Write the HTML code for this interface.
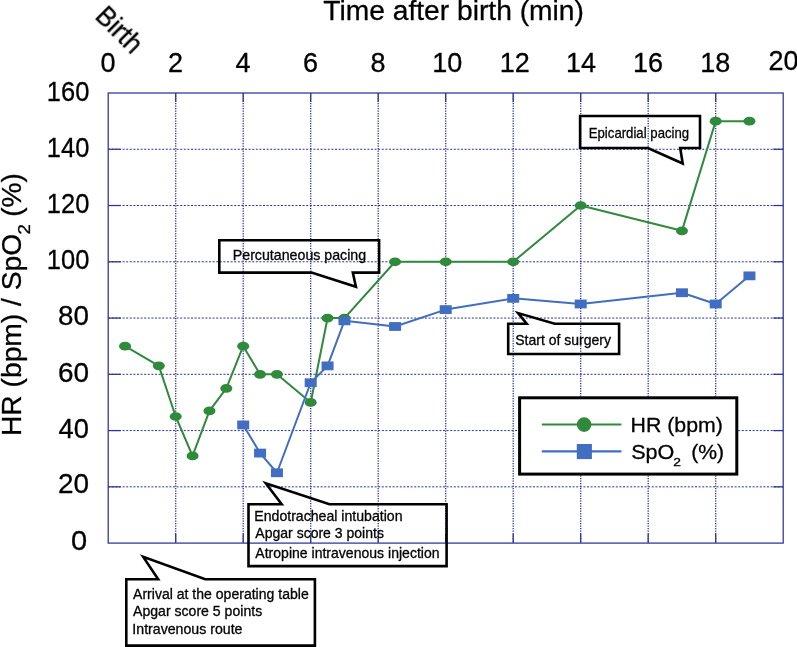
<!DOCTYPE html>
<html><head><meta charset="utf-8"><title>Chart</title>
<style>html,body{margin:0;padding:0;background:#fff;}svg{display:block;}text{font-family:"Liberation Sans",sans-serif;fill:#000;stroke:#000;stroke-width:0.3px;}#txt{opacity:0.999;}</style>
</head><body>
<svg width="797" height="647" viewBox="0 0 797 647">
<rect x="0" y="0" width="797" height="647" fill="#fff"/>
<g stroke="#2a339c" stroke-width="1.3" stroke-dasharray="1.2 1.3" fill="none">
<line x1="175.70" y1="93.0" x2="175.70" y2="543.1"/>
<line x1="243.20" y1="93.0" x2="243.20" y2="543.1"/>
<line x1="310.70" y1="93.0" x2="310.70" y2="543.1"/>
<line x1="378.20" y1="93.0" x2="378.20" y2="543.1"/>
<line x1="445.70" y1="93.0" x2="445.70" y2="543.1"/>
<line x1="513.20" y1="93.0" x2="513.20" y2="543.1"/>
<line x1="580.70" y1="93.0" x2="580.70" y2="543.1"/>
<line x1="648.20" y1="93.0" x2="648.20" y2="543.1"/>
<line x1="715.70" y1="93.0" x2="715.70" y2="543.1"/>
</g>
<g stroke="#2a339c" stroke-width="1" stroke-dasharray="2 1.6" fill="none">
<line x1="108.2" y1="486.84" x2="783.20" y2="486.84"/>
<line x1="108.2" y1="430.58" x2="783.20" y2="430.58"/>
<line x1="108.2" y1="374.31" x2="783.20" y2="374.31"/>
<line x1="108.2" y1="318.05" x2="783.20" y2="318.05"/>
<line x1="108.2" y1="261.79" x2="783.20" y2="261.79"/>
<line x1="108.2" y1="205.52" x2="783.20" y2="205.52"/>
<line x1="108.2" y1="149.26" x2="783.20" y2="149.26"/>
</g>
<g stroke="#2a339c" stroke-width="1.25" fill="none">
<rect x="108.2" y="93.0" width="675.00" height="450.10"/>
<line x1="175.70" y1="93.0" x2="175.70" y2="102.0"/>
<line x1="175.70" y1="543.1" x2="175.70" y2="534.1"/>
<line x1="243.20" y1="93.0" x2="243.20" y2="102.0"/>
<line x1="243.20" y1="543.1" x2="243.20" y2="534.1"/>
<line x1="310.70" y1="93.0" x2="310.70" y2="102.0"/>
<line x1="310.70" y1="543.1" x2="310.70" y2="534.1"/>
<line x1="378.20" y1="93.0" x2="378.20" y2="102.0"/>
<line x1="378.20" y1="543.1" x2="378.20" y2="534.1"/>
<line x1="445.70" y1="93.0" x2="445.70" y2="102.0"/>
<line x1="445.70" y1="543.1" x2="445.70" y2="534.1"/>
<line x1="513.20" y1="93.0" x2="513.20" y2="102.0"/>
<line x1="513.20" y1="543.1" x2="513.20" y2="534.1"/>
<line x1="580.70" y1="93.0" x2="580.70" y2="102.0"/>
<line x1="580.70" y1="543.1" x2="580.70" y2="534.1"/>
<line x1="648.20" y1="93.0" x2="648.20" y2="102.0"/>
<line x1="648.20" y1="543.1" x2="648.20" y2="534.1"/>
<line x1="715.70" y1="93.0" x2="715.70" y2="102.0"/>
<line x1="715.70" y1="543.1" x2="715.70" y2="534.1"/>
<line x1="108.2" y1="486.84" x2="120.7" y2="486.84"/>
<line x1="783.20" y1="486.84" x2="773.20" y2="486.84"/>
<line x1="108.2" y1="430.58" x2="120.7" y2="430.58"/>
<line x1="783.20" y1="430.58" x2="773.20" y2="430.58"/>
<line x1="108.2" y1="374.31" x2="120.7" y2="374.31"/>
<line x1="783.20" y1="374.31" x2="773.20" y2="374.31"/>
<line x1="108.2" y1="318.05" x2="120.7" y2="318.05"/>
<line x1="783.20" y1="318.05" x2="773.20" y2="318.05"/>
<line x1="108.2" y1="261.79" x2="120.7" y2="261.79"/>
<line x1="783.20" y1="261.79" x2="773.20" y2="261.79"/>
<line x1="108.2" y1="205.52" x2="120.7" y2="205.52"/>
<line x1="783.20" y1="205.52" x2="773.20" y2="205.52"/>
<line x1="108.2" y1="149.26" x2="120.7" y2="149.26"/>
<line x1="783.20" y1="149.26" x2="773.20" y2="149.26"/>
</g>
<polyline points="125.08,346.18 158.82,365.87 175.70,416.51 192.57,455.89 209.45,410.88 226.32,388.38 243.20,346.18 260.07,374.31 276.95,374.31 310.70,402.44 327.57,318.05 344.45,318.05 395.07,261.79 445.70,261.79 513.20,261.79 580.70,205.52 681.95,230.84 715.70,121.13 749.45,121.13" fill="none" stroke="#2f8a3c" stroke-width="2" stroke-linejoin="round"/>
<g fill="#2f8a3c">
<ellipse cx="125.08" cy="346.18" rx="6" ry="4.35"/>
<ellipse cx="158.82" cy="365.87" rx="6" ry="4.35"/>
<ellipse cx="175.70" cy="416.51" rx="6" ry="4.35"/>
<ellipse cx="192.57" cy="455.89" rx="6" ry="4.35"/>
<ellipse cx="209.45" cy="410.88" rx="6" ry="4.35"/>
<ellipse cx="226.32" cy="388.38" rx="6" ry="4.35"/>
<ellipse cx="243.20" cy="346.18" rx="6" ry="4.35"/>
<ellipse cx="260.07" cy="374.31" rx="6" ry="4.35"/>
<ellipse cx="276.95" cy="374.31" rx="6" ry="4.35"/>
<ellipse cx="310.70" cy="402.44" rx="6" ry="4.35"/>
<ellipse cx="327.57" cy="318.05" rx="6" ry="4.35"/>
<ellipse cx="344.45" cy="318.05" rx="6" ry="4.35"/>
<ellipse cx="395.07" cy="261.79" rx="6" ry="4.35"/>
<ellipse cx="445.70" cy="261.79" rx="6" ry="4.35"/>
<ellipse cx="513.20" cy="261.79" rx="6" ry="4.35"/>
<ellipse cx="580.70" cy="205.52" rx="6" ry="4.35"/>
<ellipse cx="681.95" cy="230.84" rx="6" ry="4.35"/>
<ellipse cx="715.70" cy="121.13" rx="6" ry="4.35"/>
<ellipse cx="749.45" cy="121.13" rx="6" ry="4.35"/>
</g>
<polyline points="243.20,424.95 260.07,453.08 276.95,472.77 310.70,382.75 327.57,365.87 344.45,320.86 395.07,326.49 445.70,309.61 513.20,298.36 580.70,303.98 681.95,292.73 715.70,303.98 749.45,275.85" fill="none" stroke="#416ec0" stroke-width="2" stroke-linejoin="round"/>
<g fill="#416ec0">
<rect x="237.20" y="420.55" width="12" height="8.8"/>
<rect x="254.07" y="448.68" width="12" height="8.8"/>
<rect x="270.95" y="468.37" width="12" height="8.8"/>
<rect x="304.70" y="378.35" width="12" height="8.8"/>
<rect x="321.57" y="361.47" width="12" height="8.8"/>
<rect x="338.45" y="316.46" width="12" height="8.8"/>
<rect x="389.07" y="322.09" width="12" height="8.8"/>
<rect x="439.70" y="305.21" width="12" height="8.8"/>
<rect x="507.20" y="293.96" width="12" height="8.8"/>
<rect x="574.70" y="299.58" width="12" height="8.8"/>
<rect x="675.95" y="288.33" width="12" height="8.8"/>
<rect x="709.70" y="299.58" width="12" height="8.8"/>
<rect x="743.45" y="271.45" width="12" height="8.8"/>
</g>
<g fill="none" stroke="#000" stroke-width="2.6" stroke-linejoin="miter" stroke-miterlimit="10">
<path d="M219.3 240.2 H379.1 V272.6 H352.8 L355.94 286.77 L311.5 272.6 H219.3 Z"/>
<path d="M580.1 116.0 H700.0 V148.0 H680.2 L682.73 163.53 L647.9 148.0 H580.1 Z"/>
<path d="M508.2 323.7 H526.7 L518.04 313.11 L554.7 323.7 H619.1 V354.0 H508.2 Z"/>
<path d="M248.5 504.3 H281.7 L265.76 483.25 L329.4 504.3 H446.6 V566.1 H248.5 Z"/>
<path d="M126.3 579.3 H158.2 L143.19 556.87 L205.2 579.3 H314.9 V645.6 H126.3 Z"/>
</g>
<rect x="519.6" y="397.8" width="217.2" height="76.3" fill="#fff" stroke="#000" stroke-width="3"/>
<line x1="541.8" y1="424.5" x2="621.4" y2="424.5" stroke="#2f8a3c" stroke-width="2.2"/>
<circle cx="584.1" cy="424.6" r="7.3" fill="#2f8a3c"/>
<line x1="541.8" y1="451.4" x2="621.4" y2="451.4" stroke="#416ec0" stroke-width="2.2"/>
<rect x="576.8" y="444" width="15.1" height="15.1" fill="#416ec0"/>
<g id="txt">
<text id="lg1" transform="translate(630.60 431.9) scale(1.0436 1)" font-size="20.4">HR (bpm)</text>
<text id="lg2a" transform="translate(631.23 458.6) scale(1.0574 1)" font-size="20.4">SpO</text>
<text id="lg2b" transform="translate(673.21 465.8) scale(1.2040 1)" font-size="11.5">2</text>
<text id="lg2c" transform="translate(691.13 458.6) scale(1.0387 1)" font-size="20.4">(%)</text>
<text id="title" transform="translate(323.24 20.0) scale(0.9937 1)" font-size="28.4">Time after birth (min)</text>
<text class="xt" x="108.00" y="71.8" font-size="27" text-anchor="middle">0</text>
<text class="xt" x="175.50" y="71.8" font-size="27" text-anchor="middle">2</text>
<text class="xt" x="243.00" y="71.8" font-size="27" text-anchor="middle">4</text>
<text class="xt" x="310.50" y="71.8" font-size="27" text-anchor="middle">6</text>
<text class="xt" x="378.00" y="71.8" font-size="27" text-anchor="middle">8</text>
<text class="xt" x="447.30" y="71.8" font-size="27" text-anchor="middle">10</text>
<text class="xt" x="514.70" y="71.8" font-size="27" text-anchor="middle">12</text>
<text class="xt" x="581.10" y="71.8" font-size="27" text-anchor="middle">14</text>
<text class="xt" x="648.00" y="71.8" font-size="27" text-anchor="middle">16</text>
<text class="xt" x="715.30" y="71.8" font-size="27" text-anchor="middle">18</text>
<text class="xt" x="783.50" y="69.6" font-size="27" text-anchor="middle">20</text>
<text id="yt0" transform="translate(70.94 549.75) scale(1.0760 1)" font-size="27">0</text>
<text id="yt20" transform="translate(57.90 492.63) scale(1.0349 1)" font-size="27">20</text>
<text id="yt40" transform="translate(58.62 437.5) scale(1.0101 1)" font-size="27">40</text>
<text id="yt60" transform="translate(57.90 382.18) scale(1.0349 1)" font-size="27">60</text>
<text id="yt80" transform="translate(58.05 324.85) scale(1.0298 1)" font-size="27">80</text>
<text id="yt100" transform="translate(46.79 269.12) scale(0.9438 1)" font-size="27">100</text>
<text id="yt120" transform="translate(46.79 213.0) scale(0.9438 1)" font-size="27">120</text>
<text id="yt140" transform="translate(46.79 156.88) scale(0.9438 1)" font-size="27">140</text>
<text id="yt160" transform="translate(46.79 100.75) scale(0.9438 1)" font-size="27">160</text>
<text id="birth" transform="translate(93.88 17.33) rotate(45) scale(0.963 1)" font-size="27">Birth</text>
<text id="yl1" transform="translate(20.6 436.06) rotate(-90) scale(0.9903 1)" font-size="28.5">HR (bpm) / SpO</text>
<text id="yl2" transform="translate(30.3 234.53) rotate(-90) scale(1.0989 1)" font-size="17">2</text>
<text id="yl3" transform="translate(20.6 216.78) rotate(-90) scale(0.9839 1)" font-size="28.5">(%)</text>
<text id="c1" transform="translate(232.76 260.3) scale(1.0220 1)" font-size="13.9">Percutaneous pacing</text>
<text id="c2" transform="translate(588.75 138.1) scale(0.9032 1)" font-size="14.6">Epicardial pacing</text>
<text id="c3" transform="translate(515.27 345.0) scale(1.0084 1)" font-size="13.9">Start of surgery</text>
<text id="c4a" transform="translate(254.27 520.8) scale(1.0159 1)" font-size="13.9">Endotracheal intubation</text>
<text id="c4b" transform="translate(255.33 538.0) scale(1.0094 1)" font-size="13.9">Apgar score 3 points</text>
<text id="c4c" transform="translate(255.33 558.3) scale(1.0105 1)" font-size="13.9">Atropine intravenous injection</text>
<text id="c5a" transform="translate(133.03 598.9) scale(1.0114 1)" font-size="13.9">Arrival at the operating table</text>
<text id="c5b" transform="translate(133.03 616.4) scale(1.0141 1)" font-size="13.9">Apgar score 5 points</text>
<text id="c5c" transform="translate(132.33 634.0) scale(1.0191 1)" font-size="13.9">Intravenous route</text>
</g>
</svg>
</body></html>
